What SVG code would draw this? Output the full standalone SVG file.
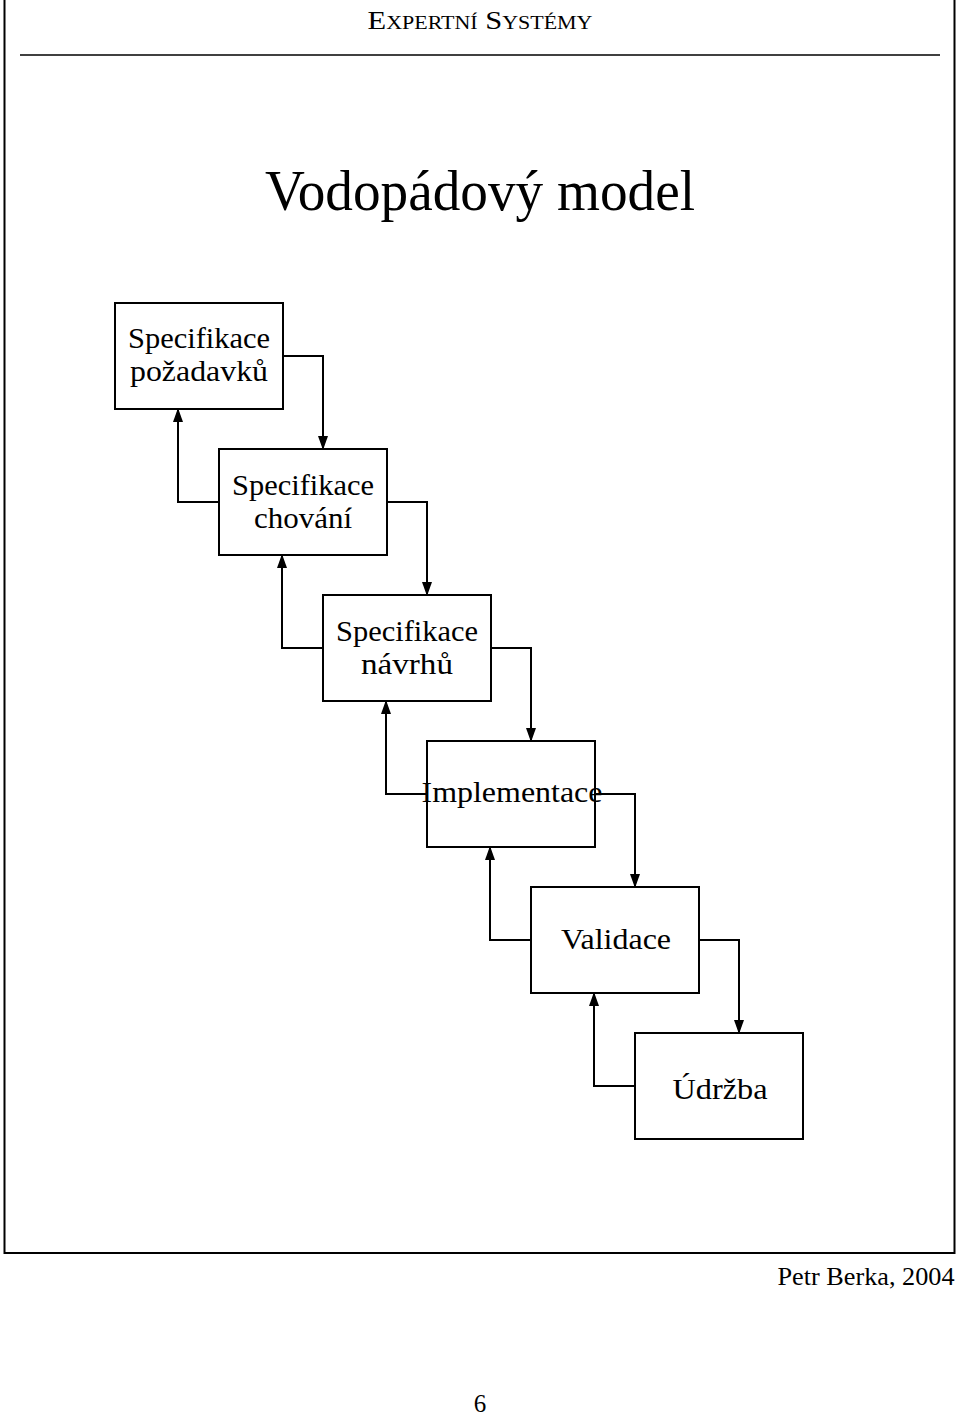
<svg xmlns="http://www.w3.org/2000/svg" width="960" height="1418" viewBox="0 0 960 1418">
<style>
.box{fill:#fff;stroke:#000;stroke-width:2}
.t{font-family:"Liberation Serif","DejaVu Serif",serif;font-size:30px;fill:#000;text-anchor:middle}
.c{fill:none;stroke:#000;stroke-width:2}
</style>
<defs>
<marker id="ah" markerUnits="userSpaceOnUse" markerWidth="14" markerHeight="10" refX="13" refY="5" orient="auto"><path d="M0,0 L14,5 L0,10 z" fill="#000"/></marker>
</defs>
<rect width="960" height="1418" fill="#fff"/>
<path d="M4.5,0 V1253 H954.5 V0" fill="none" stroke="#000" stroke-width="2"/>
<line x1="20" y1="55" x2="940" y2="55" stroke="#000" stroke-width="1.5"/>
<text x="480" y="29" class="t" style="font-size:25px;font-variant:small-caps" textLength="225" lengthAdjust="spacingAndGlyphs">Expertní Systémy</text>
<text x="480" y="210" class="t" style="font-size:56px" textLength="430" lengthAdjust="spacingAndGlyphs">Vodopádový model</text>
<g id="connectors">
<path class="c" d="M283,356 H323 V449" marker-end="url(#ah)"/>
<path class="c" d="M387,502 H427 V595" marker-end="url(#ah)"/>
<path class="c" d="M491,648 H531 V741" marker-end="url(#ah)"/>
<path class="c" d="M595,794 H635 V887" marker-end="url(#ah)"/>
<path class="c" d="M699,940 H739 V1033" marker-end="url(#ah)"/>
<path class="c" d="M219,502 H178 V409" marker-end="url(#ah)"/>
<path class="c" d="M323,648 H282 V555" marker-end="url(#ah)"/>
<path class="c" d="M427,794 H386 V701" marker-end="url(#ah)"/>
<path class="c" d="M531,940 H490 V847" marker-end="url(#ah)"/>
<path class="c" d="M635,1086 H594 V993" marker-end="url(#ah)"/>
</g>
<g id="n1"><rect class="box" x="115" y="303" width="168" height="106"/>
<text class="t" x="199" y="348" textLength="142" lengthAdjust="spacingAndGlyphs">Specifikace</text>
<text class="t" x="199" y="381" textLength="138" lengthAdjust="spacingAndGlyphs">požadavků</text></g>
<g id="n2"><rect class="box" x="219" y="449" width="168" height="106"/>
<text class="t" x="303" y="495" textLength="142" lengthAdjust="spacingAndGlyphs">Specifikace</text>
<text class="t" x="303" y="528" textLength="98" lengthAdjust="spacingAndGlyphs">chování</text></g>
<g id="n3"><rect class="box" x="323" y="595" width="168" height="106"/>
<text class="t" x="407" y="641" textLength="142" lengthAdjust="spacingAndGlyphs">Specifikace</text>
<text class="t" x="407" y="674" textLength="92" lengthAdjust="spacingAndGlyphs">návrhů</text></g>
<g id="n4"><rect class="box" x="427" y="741" width="168" height="106"/>
<text class="t" x="512" y="802" textLength="181" lengthAdjust="spacingAndGlyphs">Implementace</text></g>
<g id="n5"><rect class="box" x="531" y="887" width="168" height="106"/>
<text class="t" x="616" y="949" textLength="110" lengthAdjust="spacingAndGlyphs">Validace</text></g>
<g id="n6"><rect class="box" x="635" y="1033" width="168" height="106"/>
<text class="t" x="720" y="1099" textLength="95" lengthAdjust="spacingAndGlyphs">Údržba</text></g>
<text class="t" x="866" y="1285" style="font-size:26px" textLength="177" lengthAdjust="spacingAndGlyphs">Petr Berka, 2004</text>
<text class="t" x="480" y="1412" style="font-size:25px">6</text>
</svg>
